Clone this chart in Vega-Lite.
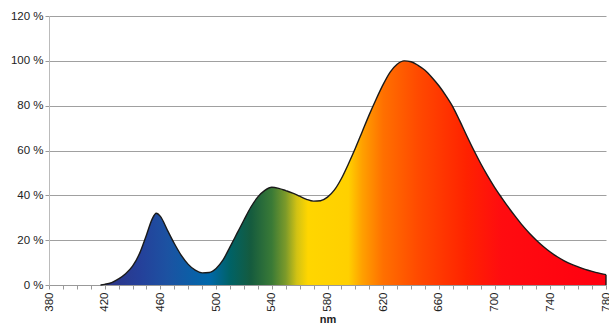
{
  "$schema": "https://vega.github.io/schema/vega-lite/v6.json",
  "width": 557,
  "height": 269,
  "autosize": {"type": "none"},
  "padding": {"left": 49, "top": 16, "right": 3, "bottom": 39},
  "background": "white",
  "config": {
    "view": {"stroke": null},
    "font": "Liberation Sans",
    "axis": {"labelFont": "Liberation Sans", "titleFont": "Liberation Sans", "labelColor": "#222", "titleColor": "#222"}
  },
  "data": {
    "values": [
      {"nm": 380, "v": 0}, {"nm": 390, "v": 0}, {"nm": 400, "v": 0}, {"nm": 410, "v": 0}, {"nm": 417, "v": 0},
      {"nm": 420, "v": 0.3}, {"nm": 425, "v": 1.1}, {"nm": 430, "v": 2.7}, {"nm": 435, "v": 5.0},
      {"nm": 440, "v": 8.4}, {"nm": 445, "v": 14}, {"nm": 450, "v": 22.3}, {"nm": 454, "v": 29.3},
      {"nm": 457, "v": 32}, {"nm": 460, "v": 30.6}, {"nm": 465, "v": 24.5}, {"nm": 470, "v": 18.5},
      {"nm": 475, "v": 13.2}, {"nm": 480, "v": 9.2}, {"nm": 485, "v": 6.6}, {"nm": 490, "v": 5.4},
      {"nm": 495, "v": 5.6}, {"nm": 500, "v": 7.4}, {"nm": 505, "v": 11.2}, {"nm": 510, "v": 17},
      {"nm": 515, "v": 23}, {"nm": 520, "v": 29}, {"nm": 525, "v": 34.8}, {"nm": 530, "v": 39.3},
      {"nm": 535, "v": 42.2}, {"nm": 540, "v": 43.6}, {"nm": 545, "v": 43.1}, {"nm": 550, "v": 42.1},
      {"nm": 555, "v": 41}, {"nm": 560, "v": 39.6}, {"nm": 565, "v": 38.2}, {"nm": 570, "v": 37.4},
      {"nm": 575, "v": 37.6}, {"nm": 580, "v": 39.2}, {"nm": 585, "v": 42.4}, {"nm": 590, "v": 47.5},
      {"nm": 595, "v": 54}, {"nm": 600, "v": 61}, {"nm": 605, "v": 68.5}, {"nm": 610, "v": 76},
      {"nm": 615, "v": 83}, {"nm": 620, "v": 89.5}, {"nm": 625, "v": 95}, {"nm": 630, "v": 98.5},
      {"nm": 635, "v": 100}, {"nm": 640, "v": 99.6}, {"nm": 645, "v": 98}, {"nm": 650, "v": 95.8},
      {"nm": 655, "v": 92.6}, {"nm": 660, "v": 88.9}, {"nm": 665, "v": 84.5}, {"nm": 670, "v": 79.5},
      {"nm": 675, "v": 73.2}, {"nm": 680, "v": 66.6}, {"nm": 685, "v": 60.2}, {"nm": 690, "v": 54.2},
      {"nm": 695, "v": 48.7}, {"nm": 700, "v": 43.6}, {"nm": 705, "v": 39}, {"nm": 710, "v": 34.6},
      {"nm": 715, "v": 30.5}, {"nm": 720, "v": 26.6}, {"nm": 725, "v": 23.1}, {"nm": 730, "v": 20},
      {"nm": 735, "v": 17.2}, {"nm": 740, "v": 14.7}, {"nm": 745, "v": 12.6}, {"nm": 750, "v": 10.8},
      {"nm": 755, "v": 9.3}, {"nm": 760, "v": 8.1}, {"nm": 765, "v": 7}, {"nm": 770, "v": 6.1},
      {"nm": 775, "v": 5.3}, {"nm": 780, "v": 4.6}
    ]
  },
  "encoding": {
    "x": {
      "field": "nm", "type": "quantitative",
      "scale": {"domain": [380, 780], "nice": false, "zero": false},
      "axis": {
        "title": "nm", "titleFontWeight": "bold", "titleFontSize": 11, "titlePadding": 2,
        "values": [380,390,400,410,420,430,440,450,460,470,480,490,500,510,520,530,540,550,560,570,580,590,600,610,620,630,640,650,660,670,680,690,700,710,720,730,740,750,760,770,780],
        "labelExpr": "(datum.value - 380) % 40 == 0 ? datum.label : ''",
        "labelAngle": 270, "labelFontSize": 11.5, "labelPadding": 3,
        "labelOverlap": false, "labelFlush": false,
        "grid": false, "domainColor": "#999999", "tickColor": "#999999", "tickSize": 4
      }
    },
    "y": {
      "field": "v", "type": "quantitative",
      "scale": {"domain": [0, 120], "nice": false},
      "axis": {
        "title": null, "values": [0, 20, 40, 60, 80, 100, 120],
        "labelExpr": "datum.value + ' %'", "labelFontSize": 11.5, "labelPadding": 2,
        "tickSize": 4, "tickColor": "#999999", "domainColor": "#bbbbbb",
        "gridColor": "#a0a0a0", "gridWidth": 1
      }
    }
  },
  "layer": [
    {
      "mark": {
        "type": "area", "interpolate": "monotone",
        "color": {
          "gradient": "linear", "x1": 0, "x2": 1, "y1": 0, "y2": 0,
          "stops": [
            {"offset": 0.1, "color": "#2e3485"},
            {"offset": 0.1625, "color": "#25409a"},
            {"offset": 0.2125, "color": "#1c52a2"},
            {"offset": 0.2875, "color": "#0068aa"},
            {"offset": 0.325, "color": "#006266"},
            {"offset": 0.3625, "color": "#155b3e"},
            {"offset": 0.4, "color": "#3a7a36"},
            {"offset": 0.425, "color": "#7c9a2a"},
            {"offset": 0.445, "color": "#d2c214"},
            {"offset": 0.465, "color": "#ffd600"},
            {"offset": 0.5375, "color": "#ffd000"},
            {"offset": 0.5625, "color": "#ffa000"},
            {"offset": 0.6, "color": "#ff7000"},
            {"offset": 0.6625, "color": "#ff4a00"},
            {"offset": 0.75, "color": "#ff2200"},
            {"offset": 0.8125, "color": "#ff0c10"},
            {"offset": 1, "color": "#ff0010"}
          ]
        }
      }
    },
    {
      "transform": [{"filter": "datum.nm >= 417"}],
      "mark": {"type": "line", "interpolate": "monotone", "color": "#1a1a1a", "strokeWidth": 1.4}
    },
    {
      "transform": [{"filter": "datum.nm == 780"}],
      "mark": {"type": "rule", "color": "#1a1a1a", "strokeWidth": 1.4},
      "encoding": {"y2": {"datum": 0}}
    }
  ]
}
